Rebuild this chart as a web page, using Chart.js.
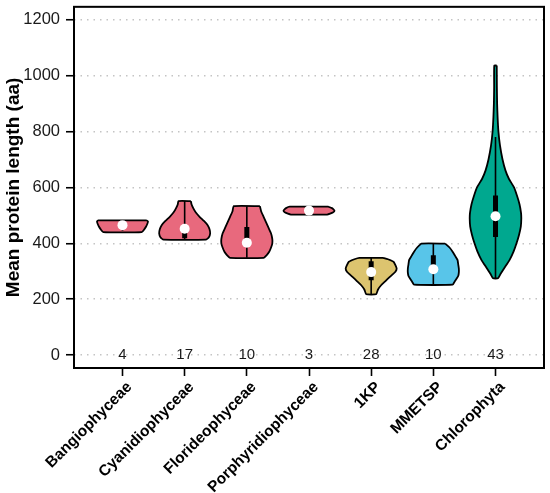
<!DOCTYPE html>
<html>
<head>
<meta charset="utf-8">
<script src="https://cdn.jsdelivr.net/npm/chart.js@4.4.0/dist/chart.umd.min.js"></script>
<style>
  html, body { margin: 0; padding: 0; background: #fff; }
  #wrap { width: 550px; height: 493px; }
</style>
</head>
<body>
<div id="wrap"><canvas id="violino"></canvas></div>
<script>
// dados
const grupos = ['Bangiophyceae','Cyanidiophyceae','Florideophyceae','Porphyridiophyceae','1KP','MMETSP','Chlorophyta']
const contagens = [4,17,10,3,28,10,43]
const medianas = [465,452,402,517,297,307,497]
const caixa_min = [458,418,398,514,268,298,423]
const caixa_max = [470,462,458,520,336,357,571]
const bigode_min = [445,413,348,510,218,252,272]
const bigode_max = [482,551,533,525,348,399,780]
const cores = ['#E8697D','#E8697D','#E8697D','#E8697D','#DCC46F','#58C5E9','#00A88F']
const ticks_y = [0,200,400,600,800,1000,1200]

// perfil de cada violino: niveis (aa) e meia largura (em unidades de categoria)
const niveis_bangio = [482,478,470,460,450,440]
const largura_bangio = [0.39,0.41,0.40,0.38,0.35,0.31]
const niveis_cyan = [551,540,525,510,495,480,465,450,435,422,413]
const largura_cyan = [0.10,0.11,0.14,0.18,0.24,0.31,0.37,0.40,0.41,0.39,0.34]
const niveis_flor = [533,515,495,475,455,435,415,400,385,370,358,348]
const largura_flor = [0.21,0.23,0.27,0.31,0.35,0.39,0.41,0.41,0.39,0.36,0.32,0.27]
const niveis_porph = [531,526,520,516,511,506,503]
const largura_porph = [0.31,0.37,0.40,0.41,0.39,0.34,0.29]
const niveis_1kp = [348,343,334,322,310,298,288,280,265,250,235,218]
const largura_1kp = [0.19,0.27,0.36,0.39,0.41,0.39,0.34,0.30,0.23,0.16,0.11,0.08]
const niveis_mmetsp = [399,385,370,355,340,325,310,295,283,272,262,252]
const largura_mmetsp = [0.19,0.26,0.31,0.35,0.39,0.40,0.41,0.41,0.40,0.37,0.34,0.31]
const niveis_chloro = [1036,960,900,850,800,750,700,660,630,600,570,540,510,490,460,430,400,370,340,310,290,275]
const largura_chloro = [0.02,0.022,0.026,0.034,0.047,0.072,0.113,0.161,0.217,0.298,0.346,0.386,0.41,0.415,0.407,0.378,0.338,0.29,0.225,0.137,0.08,0.04]

const niveis = [niveis_bangio,niveis_cyan,niveis_flor,niveis_porph,niveis_1kp,niveis_mmetsp,niveis_chloro]
const larguras = [largura_bangio,largura_cyan,largura_flor,largura_porph,largura_1kp,largura_mmetsp,largura_chloro]

const fonte = 'Arial, "Liberation Sans", sans-serif'

/* =================================== */

let datasets = []

for (let i = 0; i < grupos.length; i++) {
  // contorno fechado: lado direito de cima pra baixo, lado esquerdo de baixo pra cima
  let pontos = []
  for (let k = 0; k < niveis[i].length; k++) {
    pontos.push({x: i + larguras[i][k], y: niveis[i][k]})
  }
  for (let k = niveis[i].length - 1; k >= 0; k--) {
    pontos.push({x: i - larguras[i][k], y: niveis[i][k]})
  }
  pontos.push(pontos[0])

  datasets.push({
    data: pontos,
    showLine: true,
    fill: 'shape',
    backgroundColor: cores[i],
    borderColor: '#000',
    borderWidth: 1.8,
    pointRadius: 0,
    tension: 0.15,
    order: 3
  })

  datasets.push({
    data: [{x: i, y: bigode_min[i]}, {x: i, y: bigode_max[i]}],
    showLine: true,
    borderColor: '#000',
    borderWidth: 1.6,
    pointRadius: 0,
    order: 2
  })

  datasets.push({
    data: [{x: i, y: caixa_min[i]}, {x: i, y: caixa_max[i]}],
    showLine: true,
    borderColor: '#000',
    borderWidth: 5,
    borderCapStyle: 'butt',
    pointRadius: 0,
    order: 1
  })
}

datasets.push({
  data: medianas.map((m, i) => ({x: i, y: m})),
  showLine: false,
  pointRadius: 5,
  pointBackgroundColor: '#fff',
  pointBorderWidth: 0,
  order: 0
})

/* moldura e contagens */
const extras = {
  id: 'extras',
  beforeDatasetsDraw(chart) {
    const a = chart.chartArea
    const ctx = chart.ctx
    ctx.save()
    ctx.strokeStyle = '#000'
    ctx.lineWidth = 2
    ctx.strokeRect(a.left, a.top, a.right - a.left, a.bottom - a.top)
    ctx.restore()
  },
  afterDatasetsDraw(chart) {
    const ctx = chart.ctx
    const sx = chart.scales.x
    const sy = chart.scales.y
    ctx.save()
    ctx.font = '15px ' + fonte
    ctx.fillStyle = '#1a1a1a'
    ctx.textAlign = 'center'
    ctx.textBaseline = 'middle'
    contagens.forEach((n, i) => {
      ctx.fillText(String(n), sx.getPixelForValue(i), sy.getPixelForValue(0))
    })
    ctx.restore()
  }
}

new Chart(document.getElementById('violino'), {
  type: 'scatter',
  data: { datasets: datasets },
  plugins: [extras],
  options: {
    responsive: true,
    maintainAspectRatio: false,
    animation: false,
    layout: { padding: { left: 0, right: 6, top: 0, bottom: 0 } },
    plugins: {
      legend: { display: false },
      tooltip: { enabled: false }
    },
    scales: {
      x: {
        type: 'linear',
        min: -0.78,
        max: 6.78,
        afterBuildTicks: (s) => { s.ticks = grupos.map((g, i) => ({value: i})) },
        afterFit: (s) => { s.height = 125 },
        grid: { drawOnChartArea: false, drawTicks: true, tickLength: 8, tickColor: '#000', tickWidth: 1.6 },
        border: { display: false },
        ticks: {
          autoSkip: false,
          maxRotation: 45,
          minRotation: 45,
          padding: 2,
          labelOffset: 7,
          color: '#000',
          font: { family: fonte, size: 15.5, weight: 'bold' },
          callback: (v) => grupos[v]
        }
      },
      y: {
        min: -46,
        max: 1246,
        afterBuildTicks: (s) => { s.ticks = ticks_y.map(v => ({value: v})) },
        afterFit: (s) => { s.width = 74 },
        grid: { color: '#c4c4c4', lineWidth: 1.5, drawTicks: true, tickLength: 8, tickColor: '#000', tickWidth: 1.6 },
        border: { display: false, dash: [1.5, 5] },
        ticks: {
          padding: 6,
          color: '#1a1a1a',
          font: { family: fonte, size: 16.5, lineHeight: 0.1 },
          callback: (v) => String(v)
        },
        title: {
          display: true,
          text: 'Mean protein length (aa)',
          color: '#000',
          padding: { top: 2, bottom: 0 },
          font: { family: fonte, size: 19, weight: 'bold' }
        }
      }
    }
  }
})
</script>
</body>
</html>
